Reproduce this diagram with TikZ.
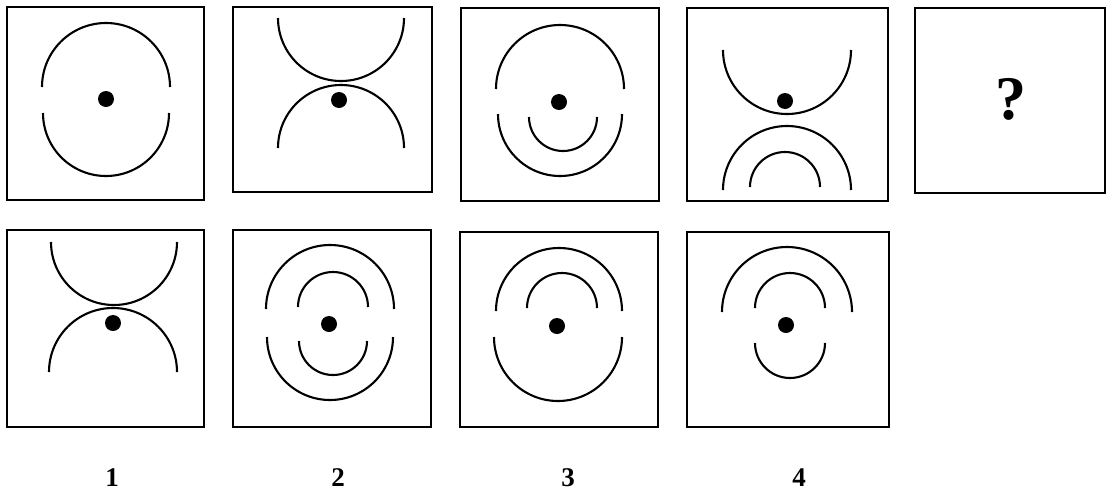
\documentclass[tikz,border=0pt]{standalone}
\usepackage{fontspec}
\setmainfont{Liberation Serif}
\begin{document}
\begin{tikzpicture}[x=1pt,y=-1pt,
  panel/.style={draw=black,line width=1.8pt},
  curve/.style={draw=black,line width=2.1pt},
  dotc/.style={fill=black},
  lbl/.style={font=\fontsize{27}{29}\selectfont\bfseries,inner sep=0pt}]
\newcommand{\capArc}[3]{\draw[curve] (#1,#2) ++(#3,0) arc[start angle=0,end angle=180,radius=#3pt];}
\newcommand{\cupArc}[3]{\draw[curve] (#1,#2) ++(#3,0) arc[start angle=0,end angle=-180,radius=#3pt];}
\newcommand{\blob}[2]{\fill[dotc] (#1,#2) circle[radius=8pt];}
\fill[white] (0,0) rectangle (1107,493);
\useasboundingbox (0,0) rectangle (1107,493);
% panels
\draw[panel] (7,7) rectangle (204,200);
\draw[panel] (233,7) rectangle (432,192);
\draw[panel] (461,8) rectangle (659,201);
\draw[panel] (687,8) rectangle (888,201);
\draw[panel] (915,8) rectangle (1105,193);
\draw[panel] (7,230) rectangle (204,427);
\draw[panel] (233,230) rectangle (431,427);
\draw[panel] (460,232) rectangle (658,427);
\draw[panel] (687,232) rectangle (889,427);
% top 1
\capArc{106}{87}{64}
\cupArc{106}{113}{63}
\blob{106}{99}
% top 2
\cupArc{341}{18}{63}
\capArc{341}{148}{63}
\blob{339}{100}
% top 3
\capArc{560}{89}{64}
\cupArc{560}{114}{62}
\cupArc{563}{117}{34}
\blob{559}{102}
% top 4
\cupArc{787}{50}{64}
\capArc{787}{190}{64}
\capArc{785}{187}{35}
\blob{785}{101}
% top 5
\node[font=\fontsize{62}{66}\selectfont\bfseries,inner sep=0pt] (q) at (1011,99) {?};
% bottom 1
\cupArc{114}{242}{63}
\capArc{113}{372}{64}
\blob{113}{323}
% bottom 2
\capArc{330}{309}{64}
\capArc{333}{307}{35}
\cupArc{330}{337}{63}
\cupArc{333}{341}{34}
\blob{329}{324}
% bottom 3
\capArc{559}{311}{63}
\capArc{562}{308}{35}
\cupArc{558}{337}{64}
\blob{557}{326}
% bottom 4
\capArc{787}{312}{65}
\capArc{790}{308}{35}
\cupArc{790}{343}{35}
\blob{786}{325}
% labels
\node[lbl] (l1) at (112,478) {1};
\node[lbl] (l2) at (338,478) {2};
\node[lbl] (l3) at (568,478) {3};
\node[lbl] (l4) at (799,478) {4};
\end{tikzpicture}
\end{document}
